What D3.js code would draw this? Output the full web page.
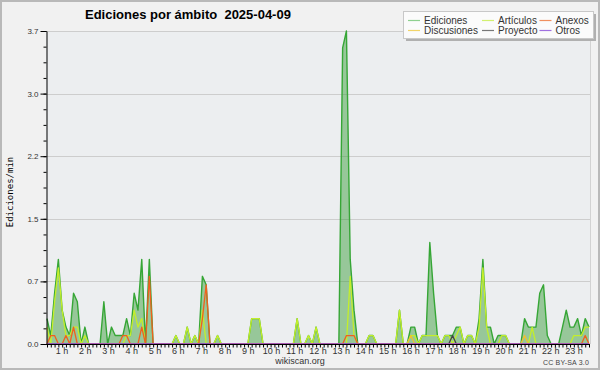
<!DOCTYPE html>
<html><head><meta charset="utf-8">
<script src="https://cdn.jsdelivr.net/npm/d3@7"></script>
<style>html,body{margin:0;padding:0;background:#f1f1f1}svg{display:block}</style>
</head><body><svg id="c" width="600" height="370"></svg>
<script>
// 10-minute buckets, edits per minute
const hourLabels = ["1 h","2 h","3 h","4 h","5 h","6 h","7 h","8 h","9 h","10 h","11 h","12 h",
  "13 h","14 h","15 h","16 h","17 h","18 h","19 h","20 h","21 h","22 h","23 h"];
const yTickLabels = ["0.0","0.7","1.5","2.2","3.0","3.7"];
const ediciones = [
  0.3,0.1,0.6,1.0,0.4,0.2,0.1,0.6,0.5,0,0.2,0,
  0,0,0,0.5,0,0.2,0.1,0.1,0.1,0.3,0.1,0.6,
  0.4,1.0,0,1.0,0,0,0,0,0,0,0.1,0,
  0,0.2,0,0.1,0,0.8,0.7,0,0,0.1,0,0,
  0,0,0,0,0,0,0.3,0.3,0.3,0,0,0,
  0,0,0,0,0,0,0.3,0,0,0.1,0,0.2,
  0,0,0,0,0,0,3.5,3.7,1.0,0.4,0,0,
  0,0.1,0.1,0,0,0,0,0,0,0.4,0,0,
  0.2,0.2,0,0.1,0.1,1.2,0.6,0.1,0,0.1,0.1,0.1,
  0.2,0.2,0,0.1,0.1,0,0.3,1.0,0.2,0.2,0,0.1,
  0.1,0.1,0,0,0,0,0.3,0.2,0.2,0.2,0.6,0.7,
  0.1,0,0,0,0.2,0.4,0.2,0.2,0.3,0.1,0.3,0.2];
const articulos = [
  0.2,0,0.5,0.9,0.4,0.1,0.1,0.2,0.2,0,0.1,0,
  0,0,0,0,0,0,0,0,0,0.1,0.1,0.4,
  0.2,0.3,0,0,0,0,0,0,0,0,0.1,0,
  0,0.2,0,0.1,0,0.4,0,0,0,0.1,0,0,
  0,0,0,0,0,0,0.3,0.3,0.3,0,0,0,
  0,0,0,0,0,0,0.3,0,0,0.1,0,0.2,
  0,0,0,0,0,0,0,0,0.8,0.1,0,0,
  0,0.1,0.1,0,0,0,0,0,0,0.4,0,0,
  0.1,0.1,0,0.1,0.1,0.1,0.1,0.1,0,0.1,0.1,0,
  0.1,0.2,0,0.1,0.1,0,0.2,0.9,0.2,0,0,0,
  0.1,0.1,0,0,0,0,0,0,0.2,0,0,0,
  0,0,0,0,0,0,0,0.1,0.1,0.1,0.2,0.2];
const anexos = [
  0,0.1,0.1,0,0,0.1,0,0.2,0,0,0,0,
  0,0,0,0,0,0,0,0,0.1,0.1,0,0,
  0,0.2,0,0.8,0,0,0,0,0,0,0,0,
  0,0,0,0,0,0.3,0.7,0,0,0,0,0,
  0,0,0,0,0,0,0,0,0,0,0,0,
  0,0,0,0,0,0,0,0,0,0,0,0,
  0,0,0,0,0,0,0,0.1,0.1,0.1,0,0,
  0,0,0,0,0,0,0,0,0,0,0,0,
  0,0,0,0,0,0,0,0,0,0,0,0,
  0,0,0,0,0,0,0,0,0,0,0,0,
  0,0,0,0,0,0,0,0,0,0,0,0,
  0,0,0,0,0,0,0,0,0,0,0.1,0];
const discusiones = [
  0,0,0,0,0,0,0,0,0,0,0,0,
  0,0,0,0,0,0,0,0,0,0,0,0,
  0,0,0,0,0,0,0,0,0,0,0,0,
  0,0,0,0,0,0,0,0,0,0,0,0,
  0,0,0,0,0,0,0,0,0,0,0,0,
  0,0,0,0,0,0,0,0,0,0,0,0,
  0,0,0,0,0,0,0,0,0,0,0,0,
  0,0,0,0,0,0,0,0,0,0,0,0,
  0.1,0,0,0,0,0,0,0,0,0,0,0,
  0,0,0,0,0,0,0,0,0,0,0,0,
  0,0,0,0,0,0,0.1,0,0,0,0,0,
  0,0,0,0,0,0,0,0,0,0,0,0];
const proyecto = [
  0,0,0,0,0,0,0,0,0,0,0,0,
  0,0,0,0,0,0,0,0,0,0,0,0,
  0,0,0,0,0,0,0,0,0,0,0,0,
  0,0,0,0,0,0,0,0,0,0,0,0,
  0,0,0,0,0,0,0,0,0,0,0,0,
  0,0,0,0,0,0,0,0,0,0,0,0,
  0,0,0,0,0,0,0,0,0,0,0,0,
  0,0,0,0,0,0,0,0,0,0,0,0,
  0,0,0,0,0,0,0,0,0,0,0,0.1,
  0,0,0,0,0,0,0,0,0,0,0,0,
  0,0,0,0,0,0,0,0,0,0,0,0,
  0,0,0,0,0,0,0,0,0,0,0,0];
const otros = [
  0,0,0,0,0,0,0,0,0,0,0,0,
  0,0,0,0,0,0,0,0,0,0,0,0,
  0,0,0,0,0,0,0,0,0,0,0,0,
  0,0,0,0,0,0,0,0,0,0,0,0,
  0,0,0,0,0,0,0,0,0,0,0,0,
  0,0,0,0,0,0,0,0,0,0,0,0,
  0,0,0,0,0,0,0,0,0,0,0,0,
  0,0,0,0,0,0,0,0,0,0,0,0,
  0,0,0,0,0,0,0,0,0,0,0,0,
  0,0,0,0,0,0,0,0,0,0,0,0,
  0,0,0,0,0,0,0,0,0,0,0,0,
  0,0,0,0,0,0,0,0,0,0,0,0];
const seriesNames = ["Ediciones","Artículos","Anexos","Discusiones","Proyecto","Otros"];
const seriesColors = ["#36a636","#c4ee2a","#f0601e","#f0c030","#444444","#9955dd"];
const legendColors = ["#8fd08f","#d2f070","#f09060","#f2d468","#777777","#a070e0"];
const seriesData = [ediciones, articulos, anexos, discusiones, proyecto, otros];

const svg = d3.select("#c");
const FONT = "'Liberation Sans', Arial, sans-serif";
const L = 46, R = 590, T = 31, B = 344;
const yMax = 3.7;

svg.append("rect").attr("width",600).attr("height",370).attr("fill","#f1f1f1");
svg.append("rect").attr("x",1).attr("y",1).attr("width",598).attr("height",368)
  .attr("fill","none").attr("stroke","#b9b9b9").attr("stroke-width",2);
svg.append("rect").attr("x",L).attr("y",T).attr("width",R-L).attr("height",B-T).attr("fill","#eceef0");

const x = d3.scaleLinear().domain([0, ediciones.length-1]).range([47, 589]);
const y = d3.scaleLinear().domain([0, yMax]).range([B, T]);
const hourX = d3.scaleLinear().domain([1, 23]).range([62, 574]);

const majors = yTickLabels.map((_, i) => yMax * i / 5);
const minors = d3.range(0, 21).map(i => yMax * i / 20);

// grid
svg.append("g").selectAll("line").data(majors.slice(1)).join("line")
  .attr("x1", L).attr("x2", R)
  .attr("y1", d => Math.round(y(d))+0.5).attr("y2", d => Math.round(y(d))+0.5)
  .attr("stroke", "#cdcdcd").attr("stroke-width", 1);
svg.append("line").attr("x1",R+0.5).attr("x2",R+0.5).attr("y1",T).attr("y2",B)
  .attr("stroke","#d2d2d2");

// area
const area = d3.area().x((d,i) => x(i)).y0(y(0)).y1(d => y(d));
svg.append("path").datum(ediciones).attr("d", area).attr("fill", "rgba(55,155,55,0.47)");

const line = d3.line().x((d,i) => x(i)).y(d => y(d));
[0,1,3,4,2,5].forEach(k => {
  svg.append("path").datum(seriesData[k]).attr("d", line)
    .attr("fill","none").attr("stroke", seriesColors[k])
    .attr("stroke-width", k === 0 ? 1.4 : 1.3).attr("stroke-linejoin","round");
});

// y axis
const yAxis = d3.axisLeft(y).tickValues(majors).tickFormat((d,i) => yTickLabels[i])
  .tickSize(6).tickSizeOuter(0).tickPadding(2);
const gy = svg.append("g").attr("transform", `translate(${L+0.5},0)`).call(yAxis);
gy.select(".domain").attr("stroke","#000");
gy.selectAll(".tick line").attr("stroke","#000");
gy.selectAll("text").attr("font-family",FONT).attr("font-size","8px").attr("fill","#333");
const gym = svg.append("g").attr("transform", `translate(${L+0.5},0)`)
  .call(d3.axisLeft(y).tickValues(minors).tickFormat("").tickSize(3).tickSizeOuter(0));
gym.select(".domain").remove();
gym.selectAll(".tick line").attr("stroke","#000");

// x axis
const gx = svg.append("g").attr("transform", `translate(0,${B+0.5})`)
  .call(d3.axisBottom(x).tickValues(d3.range(ediciones.length)).tickFormat("").tickSize(3).tickSizeOuter(0));
gx.select(".domain").remove();
gx.selectAll(".tick line").attr("stroke","#000");
svg.append("line").attr("x1",L).attr("x2",R).attr("y1",B+0.5).attr("y2",B+0.5).attr("stroke","#000");

svg.append("g").selectAll("text").data(hourLabels).join("text")
  .attr("x", (d,i) => hourX(i+1)).attr("y", 354)
  .attr("text-anchor","middle").attr("font-family",FONT).attr("font-size","9px").attr("fill","#333")
  .text(d => d);

// titles
svg.append("text").attr("x",85).attr("y",19).attr("font-family",FONT).attr("font-weight","bold")
  .attr("font-size","13px").attr("fill","#000").attr("xml:space","preserve")
  .text("Ediciones por ámbito  2025-04-09");
svg.append("text").attr("transform","translate(13,192) rotate(-90)").attr("text-anchor","middle")
  .attr("font-family","'DejaVu Sans Mono', monospace").attr("font-size","9px").attr("fill","#000")
  .text("Ediciones/min");
svg.append("text").attr("x",300).attr("y",364).attr("text-anchor","middle")
  .attr("font-family",FONT).attr("font-size","9px").attr("fill","#333").text("wikiscan.org");
svg.append("text").attr("x",589).attr("y",365).attr("text-anchor","end")
  .attr("font-family",FONT).attr("font-size","7px").attr("letter-spacing","0.2px").attr("fill","#444").text("CC BY-SA 3.0");

// legend
const lg = svg.append("g");
lg.append("rect").attr("x",406).attr("y",14).attr("width",190).attr("height",27).attr("fill","#b0b0b0");
lg.append("rect").attr("x",403.5).attr("y",11.5).attr("width",190).attr("height",27)
  .attr("fill","#fbfbfb").attr("stroke","#c8c8c8");
const colX = [408, 482, 539.5];
const rowY = [20.5, 30.5];
seriesNames.forEach((n, k) => {
  const c = k % 3, r = Math.floor(k / 3);
  lg.append("line").attr("x1",colX[c]).attr("x2",colX[c]+12).attr("y1",rowY[r]).attr("y2",rowY[r])
    .attr("stroke",legendColors[k]).attr("stroke-width",1.2);
  lg.append("text").attr("x",colX[c]+16).attr("y",rowY[r]+3).attr("font-family",FONT)
    .attr("font-size","10px").attr("fill","#333").text(n);
});
</script></body></html>
